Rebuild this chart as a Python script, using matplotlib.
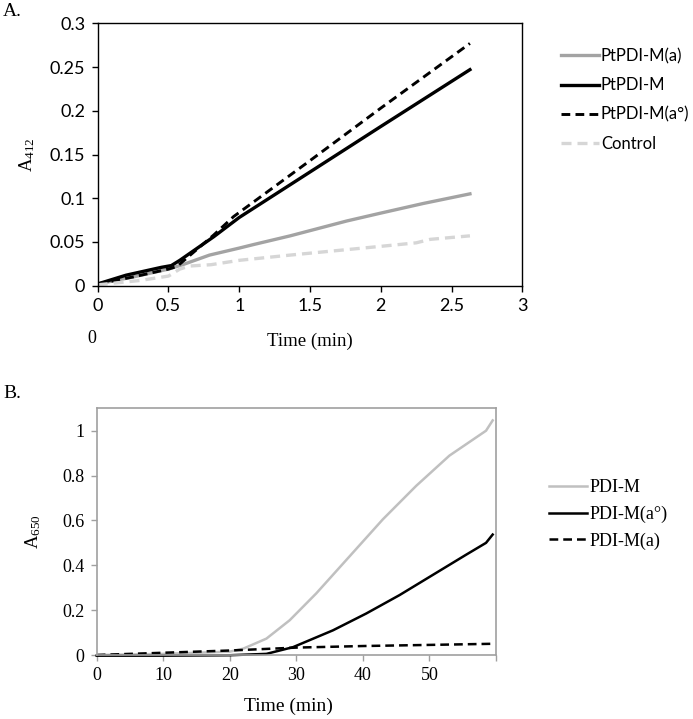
import matplotlib
matplotlib.use("Agg")
import matplotlib.pyplot as plt

plt.rcParams['mathtext.fontset'] = 'custom'
plt.rcParams['mathtext.rm'] = 'Liberation Serif'
plt.rcParams['mathtext.it'] = 'Liberation Serif:italic'

SANS = 'Lato'
SERIF = 'Liberation Serif'

# ---- Panel A: A412 vs time ----
a_mut_x = [0, 0.25, 0.5, 0.6, 0.79, 1.0, 1.1, 1.36, 1.76, 2.0, 2.3, 2.63]
a_mut_y = [0.002, 0.010, 0.019, 0.024, 0.035, 0.043, 0.047, 0.057, 0.074, 0.083, 0.094, 0.105]

a_wt_x = [0, 0.2, 0.45, 0.52, 0.58, 0.82, 1.0, 1.5, 2.0, 2.63]
a_wt_y = [0.002, 0.012, 0.021, 0.023, 0.029, 0.056, 0.078, 0.130, 0.182, 0.247]

a_ao_x = [0, 0.25, 0.5, 0.56, 0.82, 0.96, 1.5, 2.0, 2.63]
a_ao_y = [0.002, 0.010, 0.019, 0.022, 0.058, 0.079, 0.143, 0.203, 0.277]

a_ctl_x = [0, 0.3, 0.5, 0.58, 0.65, 0.8, 1.0, 1.36, 2.0, 2.25, 2.35, 2.63]
a_ctl_y = [0.001, 0.006, 0.011, 0.019, 0.0225, 0.024, 0.029, 0.035, 0.045, 0.049, 0.053, 0.057]

a_xticks = [0, 0.5, 1, 1.5, 2, 2.5, 3]
a_yticks = [0, 0.05, 0.1, 0.15, 0.2, 0.25, 0.3]

# ---- Panel B: A650 vs time ----
b_wt_x = [0, 10, 20, 22, 25.5, 29, 33, 38, 43, 48, 53, 58.5, 59.5]
b_wt_y = [0.0, 0.005, 0.015, 0.028, 0.073, 0.155, 0.275, 0.44, 0.605, 0.754, 0.889, 1.0, 1.046]

b_ao_x = [0, 10, 20, 25.5, 29.5, 35.5, 40.5, 45.5, 50.5, 55.5, 58.5, 59.5]
b_ao_y = [-0.003, -0.003, -0.001, 0.005, 0.035, 0.11, 0.185, 0.267, 0.357, 0.447, 0.5, 0.537]

b_a_x = [0, 10, 20, 30, 40, 50, 59.5]
b_a_y = [0.0, 0.01, 0.02, 0.033, 0.04, 0.045, 0.05]

b_xticks = [0, 10, 20, 30, 40, 50, 60]
b_xlabels = ['0', '10', '20', '30', '40', '50', '']
b_yticks = [0, 0.2, 0.4, 0.6, 0.8, 1.0]
b_ylabels = ['0', '0.2', '0.4', '0.6', '0.8', '1']

fig = plt.figure(figsize=(6.93, 7.19), dpi=100)
W, H = 693, 719

def box(l, t, r, b):
    return [l / W, 1 - b / H, (r - l) / W, (b - t) / H]

# Panel A
ax1 = fig.add_axes(box(97.7, 23.3, 522.3, 285.7))
la, = ax1.plot(a_mut_x, a_mut_y, color='#a3a3a3', lw=2.4, label='PtPDI-M(a)')
lb, = ax1.plot(a_wt_x, a_wt_y, color='black', lw=2.4, label='PtPDI-M')
lc, = ax1.plot(a_ao_x, a_ao_y, color='black', lw=2.1, ls=(0, (3, 1.8)), label='PtPDI-M(a°)')
ld, = ax1.plot(a_ctl_x, a_ctl_y, color='#d6d6d6', lw=2.4, ls=(0, (3, 1.8)), label='Control')
ax1.set_xlim(0, 3)
ax1.set_ylim(0, 0.3)
ax1.set_xticks(a_xticks)
ax1.set_xticklabels(['0', '0.5', '1', '1.5', '2', '2.5', '3'])
ax1.set_yticks(a_yticks)
ax1.set_yticklabels(['0', '0.05', '0.1', '0.15', '0.2', '0.25', '0.3'])
for s in ax1.spines.values():
    s.set_linewidth(1.0)
    s.set_color('black')
ax1.tick_params(direction='out', length=4, width=1.0, pad=5, labelsize=13)
for t in ax1.get_xticklabels() + ax1.get_yticklabels():
    t.set_fontfamily(SANS)
ax1.set_ylabel('A$_{412}$', fontfamily=SERIF, fontsize=13.5, labelpad=9)
ax1.set_xlabel('Time (min)', fontfamily=SERIF, fontsize=13.5, labelpad=13)
fig.text(91.5 / W, 1 - 338 / H, '0', fontfamily=SERIF, fontsize=13, ha='center', va='center')
fig.text(3 / W, 1 - 11 / H, 'A.', fontfamily=SERIF, fontsize=14, ha='left', va='center')

leg1 = fig.legend(handles=[la, lb, lc, ld], loc='upper left',
                  bbox_to_anchor=(561 / W, 1 - 48 / H), frameon=False, borderpad=0,
                  borderaxespad=0, handlelength=2.3, handletextpad=0.1,
                  labelspacing=0.8, prop={'family': SANS, 'size': 12})

# Panel B
ax2 = fig.add_axes(box(96.7, 408.3, 496, 655))
pa, = ax2.plot(b_wt_x, b_wt_y, color='#c0c0c0', lw=1.8, label='PDI-M')
pb, = ax2.plot(b_ao_x, b_ao_y, color='black', lw=1.8, label='PDI-M(a°)', clip_on=False)
pc, = ax2.plot(b_a_x, b_a_y, color='black', lw=1.8, ls=(0, (3.5, 2)), label='PDI-M(a)', clip_on=False)
ax2.set_xlim(0, 60)
ax2.set_ylim(0, 1.1)
ax2.set_xticks(b_xticks)
ax2.set_xticklabels(b_xlabels)
ax2.set_yticks(b_yticks)
ax2.set_yticklabels(b_ylabels)
for s in ax2.spines.values():
    s.set_linewidth(1.2)
    s.set_color('#a0a0a0')
ax2.tick_params(direction='out', length=4, width=1.0, color='#a0a0a0', pad=5, labelsize=13)
for t in ax2.get_xticklabels() + ax2.get_yticklabels():
    t.set_fontfamily(SERIF)
ax2.set_ylabel('A$_{650}$', fontfamily=SERIF, fontsize=13.5, labelpad=14)
ax2.set_xlabel('Time (min)', fontfamily=SERIF, fontsize=14, labelpad=8)
ax2.xaxis.set_label_coords((288 - 96.7) / (496 - 96.7), -0.175)
fig.text(3 / W, 1 - 393 / H, 'B.', fontfamily=SERIF, fontsize=14, ha='left', va='center')

leg2 = fig.legend(handles=[pa, pb, pc], loc='upper left',
                  bbox_to_anchor=(549 / W, 1 - 479 / H), frameon=False, borderpad=0,
                  borderaxespad=0, handlelength=2.1, handletextpad=0.15,
                  labelspacing=0.53, prop={'family': SERIF, 'size': 13})

fig.savefig('out.png', dpi=100)
